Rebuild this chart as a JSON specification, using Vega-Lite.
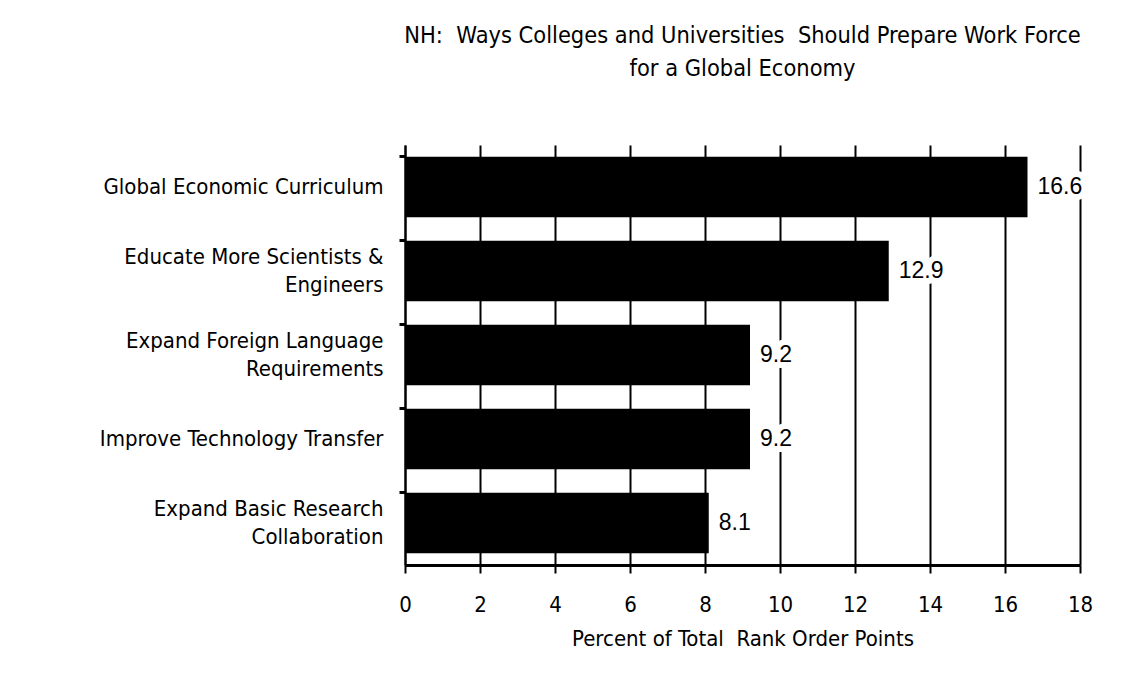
{
  "$schema": "https://vega.github.io/schema/vega-lite/v6.json",
  "autosize": {"type": "none"},
  "padding": {"left": 405, "top": 145, "right": 53, "bottom": 122},
  "width": 675,
  "height": 420,
  "background": "white",
  "title": {
    "text": ["NH:\u00a0\u00a0Ways Colleges and Universities\u00a0\u00a0Should Prepare Work Force", "for a Global Economy"],
    "font": "DejaVu Sans Condensed",
    "fontSize": 23.4,
    "fontWeight": "normal",
    "color": "black",
    "lineHeight": 33,
    "offset": 64,
    "anchor": "middle"
  },
  "data": {
    "values": [
      {"item": "Global Economic Curriculum", "pct": 16.6},
      {"item": "Educate More Scientists &|Engineers", "pct": 12.9},
      {"item": "Expand Foreign Language|Requirements", "pct": 9.2},
      {"item": "Improve Technology Transfer", "pct": 9.2},
      {"item": "Expand Basic Research|Collaboration", "pct": 8.1}
    ]
  },
  "encoding": {
    "y": {
      "field": "item",
      "type": "nominal",
      "sort": null,
      "scale": {"paddingInner": 0.28, "paddingOuter": 0.14},
      "axis": {
        "title": null,
        "labelExpr": "split(datum.value, '|')",
        "labelFont": "DejaVu Sans Condensed",
        "labelFontSize": 22,
        "labelColor": "black",
        "labelLineHeight": 28,
        "labelOffset": {"condition": {"test": "indexof(datum.value, '|') >= 0", "value": -14}, "value": 0},
        "labelPadding": 16,
        "labelLimit": 400,
        "bandPosition": 0,
        "tickSize": 6,
        "tickWidth": 3,
        "tickColor": "black",
        "domainColor": "black",
        "domainWidth": 2,
        "grid": false
      }
    },
    "x": {
      "field": "pct",
      "type": "quantitative",
      "scale": {"domain": [0, 18], "nice": false},
      "axis": {
        "title": "Percent of Total\u00a0\u00a0Rank Order Points",
        "titleFont": "DejaVu Sans Condensed",
        "titleFontSize": 22,
        "titleFontWeight": "normal",
        "titleColor": "black",
        "titlePadding": 13,
        "values": [0, 2, 4, 6, 8, 10, 12, 14, 16, 18],
        "labelFont": "DejaVu Sans Condensed",
        "labelFontSize": 22,
        "labelColor": "black",
        "labelPadding": 21,
        "labelFlush": false,
        "tickSize": 8,
        "tickWidth": 2,
        "tickColor": "black",
        "domainColor": "black",
        "domainWidth": 3,
        "grid": true,
        "gridColor": "black",
        "gridWidth": 2,
        "gridOpacity": 1
      }
    }
  },
  "layer": [
    {"mark": {"type": "bar", "color": "black"}},
    {
      "mark": {"type": "text", "align": "left", "baseline": "middle", "dx": 10, "font": "Liberation Sans", "fontSize": 23, "color": "white", "stroke": "white", "strokeWidth": 12, "strokeJoin": "round"},
      "encoding": {"text": {"field": "pct", "type": "quantitative", "format": ".1f"}}
    },
    {
      "mark": {"type": "text", "align": "left", "baseline": "middle", "dx": 10, "font": "Liberation Sans", "fontSize": 23, "color": "black"},
      "encoding": {"text": {"field": "pct", "type": "quantitative", "format": ".1f"}}
    }
  ],
  "config": {"view": {"stroke": null}}
}
